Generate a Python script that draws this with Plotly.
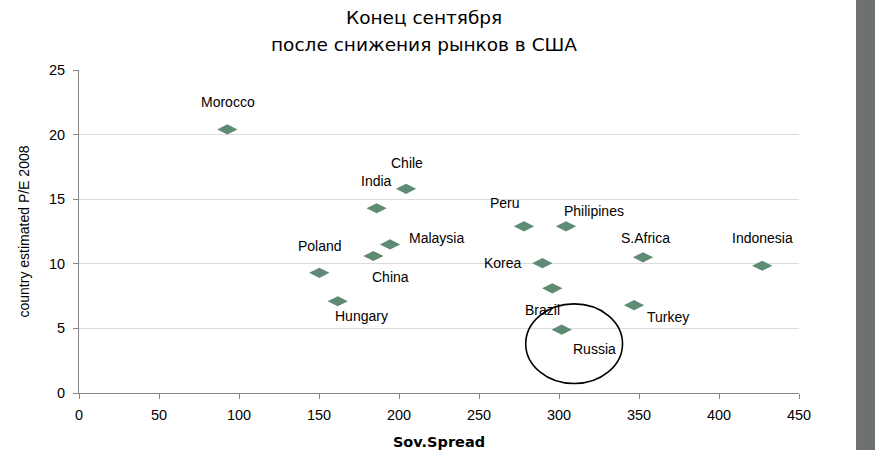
import plotly.graph_objects as go

# ---------------- data ----------------
countries = ["Morocco", "Chile", "India", "Malaysia", "China", "Poland", "Hungary",
             "Peru", "Philipines", "Korea", "Brazil", "Russia", "S.Africa", "Turkey", "Indonesia"]
sov_spread = [92.7, 204.4, 186.0, 194.4, 184.0, 150.2, 161.7,
              278.1, 304.4, 289.6, 295.8, 301.7, 352.5, 346.9, 427.0]
pe_2008 = [20.4, 15.8, 14.3, 11.5, 10.6, 9.3, 7.1,
           12.9, 12.9, 10.05, 8.1, 4.9, 10.5, 6.8, 9.85]
x_ticks = [0, 50, 100, 150, 200, 250, 300, 350, 400, 450]
y_ticks = [0, 5, 10, 15, 20, 25]
title_lines = ["Конец сентября", "после снижения рынков в США"]
x_title = "Sov.Spread"
y_title = "country estimated P/E 2008"
highlight = "Russia"

# label offsets in pixels (dx right, dy down) -- styling only
label_offsets = {
    "Morocco": (1, -27), "Chile": (1, -26), "India": (0, -27), "Malaysia": (46, -6),
    "China": (17, 21), "Poland": (1, -27), "Hungary": (24, 15), "Peru": (-19, -23),
    "Philipines": (28, -15), "Korea": (-39, 0), "Brazil": (-10, 22), "Russia": (33, 19),
    "S.Africa": (2, -19), "Turkey": (34, 12), "Indonesia": (0, -28),
}

FONT = "Liberation Sans, Arial, sans-serif"
MARKER = "#5e8b74"
AXIS = "#858585"
GRID = "#dcdcdc"

fig = go.Figure()
fig.add_trace(go.Scatter(
    x=sov_spread, y=pe_2008, mode="markers",
    marker=dict(symbol="diamond-wide", size=14.5, color=MARKER, line=dict(width=0)),
    hovertext=countries, showlegend=False,
))

annotations = []
for name, xv, yv in zip(countries, sov_spread, pe_2008):
    dx, dy = label_offsets[name]
    annotations.append(dict(
        x=xv, y=yv, xref="x", yref="y", text=name, showarrow=False,
        xshift=dx, yshift=-dy, font=dict(family=FONT, size=14, color="#000000"),
        xanchor="center", yanchor="middle",
    ))

for line, ypos in zip(title_lines, [1.162, 1.078]):
    annotations.append(dict(
        x=0.479, y=ypos, xref="paper", yref="paper", text=line, showarrow=False,
        font=dict(family="DejaVu Sans, sans-serif", size=18.5, color="#000000"),
        xanchor="center", yanchor="middle",
    ))

# ellipse around highlighted point
ri = countries.index(highlight)
rx, ry = sov_spread[ri], pe_2008[ri]
shapes = [
    dict(type="circle", xref="x", yref="y",
         x0=rx - 22.5, x1=rx + 38.0, y0=ry - 4.17, y1=ry + 2.0,
         line=dict(color="#000000", width=1.6)),
    dict(type="rect", xref="paper", yref="paper",
         x0=1.0792, x1=1.2, y0=-0.3, y1=1.3,
         fillcolor="#6d726e", line=dict(width=0), layer="above"),
]

fig.update_layout(
    width=875, height=450,
    margin=dict(l=79, r=76, t=70, b=57),
    paper_bgcolor="white", plot_bgcolor="white",
    font=dict(family=FONT, size=14, color="#000000"),
    annotations=annotations, shapes=shapes,
    xaxis=dict(
        range=[0, 450], tickvals=x_ticks, ticktext=[str(v) for v in x_ticks],
        showgrid=False, zeroline=False, automargin=False,
        showline=True, linecolor=AXIS, linewidth=1,
        ticks="outside", ticklen=5, tickcolor=AXIS, tickwidth=1,
        ticklabelstandoff=4,
        tickfont=dict(family=FONT, size=14.5),
        title=dict(text="<b>" + x_title + "</b>", standoff=19,
                   font=dict(family="DejaVu Sans, sans-serif", size=14.5)),
    ),
    yaxis=dict(
        range=[0, 25], tickvals=y_ticks, ticktext=[str(v) for v in y_ticks],
        showgrid=True, gridcolor=GRID, gridwidth=1, zeroline=False, automargin=False,
        showline=True, linecolor=AXIS, linewidth=1,
        ticks="outside", ticklen=5, tickcolor=AXIS, tickwidth=1,
        ticklabelstandoff=5,
        tickfont=dict(family=FONT, size=14.5),
        title=dict(text=y_title, standoff=16, font=dict(family=FONT, size=14)),
    ),
)

# remove the default 8px page margin so the figure sits at (0, 0) like the reference
fig.write_html("out.html", config={"displayModeBar": False},
               post_script="document.body.style.margin='0';document.body.style.overflow='hidden';")
